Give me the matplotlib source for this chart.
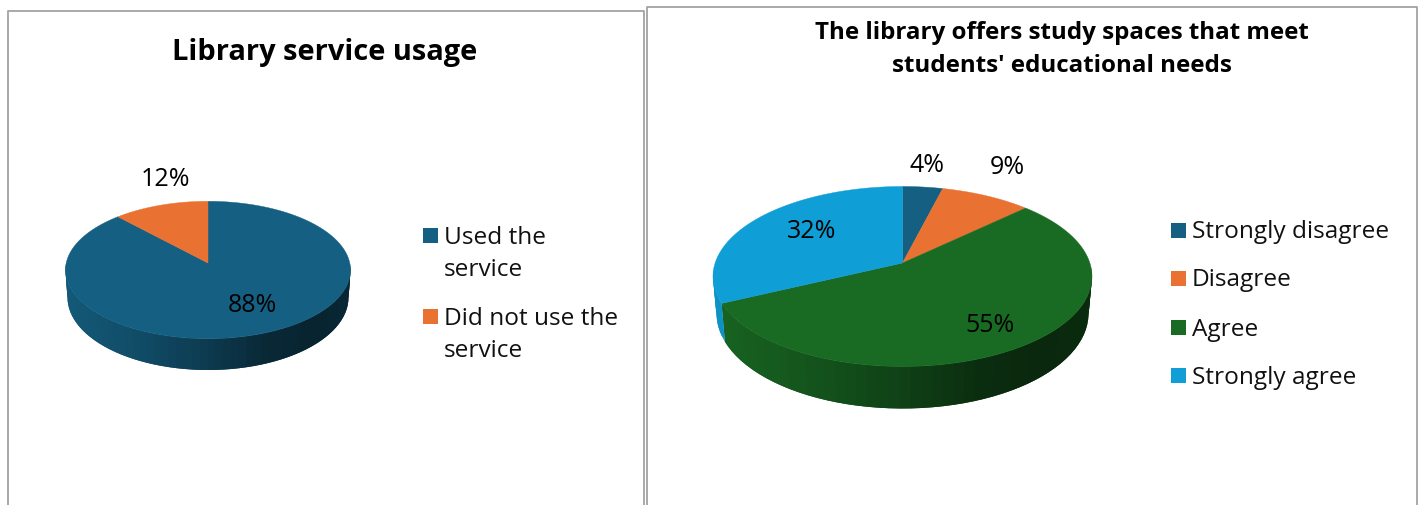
import numpy as np
import matplotlib
matplotlib.use('Agg')
import matplotlib.pyplot as plt
from matplotlib.collections import PolyCollection
from matplotlib.colors import to_rgb
from matplotlib.patches import Rectangle

W, H = 1419, 506

# left chart
usage_title = 'Library service usage'
usage_labels = ['Used the\nservice', 'Did not use the\nservice']
usage_values = [88, 12]
usage_colors = ['#156082', '#E97132']

# right chart
spaces_title = "The library offers study spaces that meet\nstudents' educational needs"
spaces_labels = ['Strongly disagree', 'Disagree', 'Agree', 'Strongly agree']
spaces_values = [4, 9, 55, 32]
spaces_colors = ['#156082', '#E97132', '#196B24', '#0F9ED5']

# darkening of the pie wall from its left end to its right end
shade_pos = [0.0, 0.25, 0.5, 0.72, 0.88, 1.0]
shade_val = [0.93, 0.80, 0.62, 0.42, 0.37, 0.40]

plt.rcParams['font.family'] = ['Open Sans', 'DejaVu Sans']
fig = plt.figure(figsize=(W / 100, H / 100), dpi=100, facecolor='white')
over = fig.add_axes([0, 0, 1, 1], zorder=5)
over.set_xlim(0, W)
over.set_ylim(H, 0)
over.axis('off')


def rim(phi, apex):
    # where a ray leaving the apex at angle phi (clockwise from top) meets the unit circle
    c = np.cos(phi)
    s = -apex * c + np.sqrt(apex**2 * c**2 - apex**2 + 1)
    return s * np.sin(phi), apex + s * c


def pie3d(values, colors, cx, cy, rx, ry, apex_y, drop, low_rx, low_ry):
    apex = (cy - apex_y) / ry
    shift = drop / ry
    kx, ky = low_rx / rx, low_ry / ry
    x0 = (cx - 1.1 * rx) / W
    y_low = cy + drop + low_ry + 5
    y_high = cy - 1.1 * ry
    ax = fig.add_axes([x0, 1 - y_low / H, 2.2 * rx / W, (y_low - y_high) / H])
    ax.set_xlim(-1.1, 1.1)
    ax.set_ylim((cy - y_low) / ry, 1.1)
    ax.axis('off')

    edges = np.cumsum([0] + list(values)) / sum(values) * 2 * np.pi
    for v0, v1, col in zip(edges[:-1], edges[1:], colors):
        phi = np.linspace(v0, v1, max(int((v1 - v0) * 20), 4))
        x, y = rim(phi, apex)
        front = y < 0.12
        # wall of the slice, split in strips that overlap the next one to hide seams
        if front.sum() > 1:
            xf, yf = x[front], y[front]
            quads, cols = [], []
            for i in range(len(xf) - 1):
                j = min(i + 2, len(xf) - 1)
                quads.append([(xf[i], yf[i]), (xf[i + 1], yf[i + 1]), (xf[j], yf[j]),
                              (kx * xf[j], ky * yf[j] - shift),
                              (kx * xf[i + 1], ky * yf[i + 1] - shift),
                              (kx * xf[i], ky * yf[i] - shift)])
                f = np.interp((xf[i] + 1) / 2, shade_pos, shade_val)
                cols.append(np.array(to_rgb(col)) * f)
            ax.add_collection(PolyCollection(quads, facecolors=cols, edgecolors='none', zorder=1))
        phi = np.linspace(v0, v1, max(int((v1 - v0) * 80), 4))
        x, y = rim(phi, apex)
        ax.fill(np.r_[0, x], np.r_[apex, y], color=col, lw=0.3, zorder=2)


def panel(x0, x1, top):
    over.plot([x0, x0, x1, x1], [H + 2, top, top, H + 2], color='#a3a3a3', lw=1.3, clip_on=False)


def legend_marks(labels, colors, x, ys, text_x, size, line_gap):
    for lab, col, y in zip(labels, colors, ys):
        over.add_patch(Rectangle((x, y - 7.5), 15, 15, color=col, lw=0))
        for j, part in enumerate(lab.split('\n')):
            over.text(text_x, y + 1.5 + j * line_gap, part, fontsize=size, va='center', ha='left', color='#111111')


panel(8, 644, 11.5)
panel(647, 1417, 7.5)

over.text(325, 52.5, usage_title, fontsize=20.9, fontweight='bold', ha='center', va='center', color='black')
for j, part in enumerate(spaces_title.split('\n')):
    over.text(1062, 32.5 + j * 33, part, fontsize=17.35, fontweight='bold', ha='center', va='center', color='black')

pie3d(usage_values, usage_colors, 208, 271, 142.5, 68.7, 264, 27.5, 140.5, 72.5)
pie3d(spaces_values, spaces_colors, 902.5, 277.5, 189.5, 90, 264, 37, 186, 95)

usage_spots = [(252, 305), (165, 179)]
for v, (x, y) in zip(usage_values, usage_spots):
    over.text(x, y, f'{v}%', fontsize=18, ha='center', va='center', color='black')
spaces_spots = [(927, 165), (1007, 167), (990, 325), (812, 231)]
for v, (x, y) in zip(spaces_values, spaces_spots):
    over.text(x, y, f'{v}%', fontsize=18, ha='center', va='center', color='black')

legend_marks(usage_labels, usage_colors, 423, [236.5, 317.5], 444, 17.6, 32)
legend_marks(spaces_labels, spaces_colors, 1171, [231, 279, 328, 376], 1192, 17.6, 32)

fig.savefig('out.png', dpi=100)
